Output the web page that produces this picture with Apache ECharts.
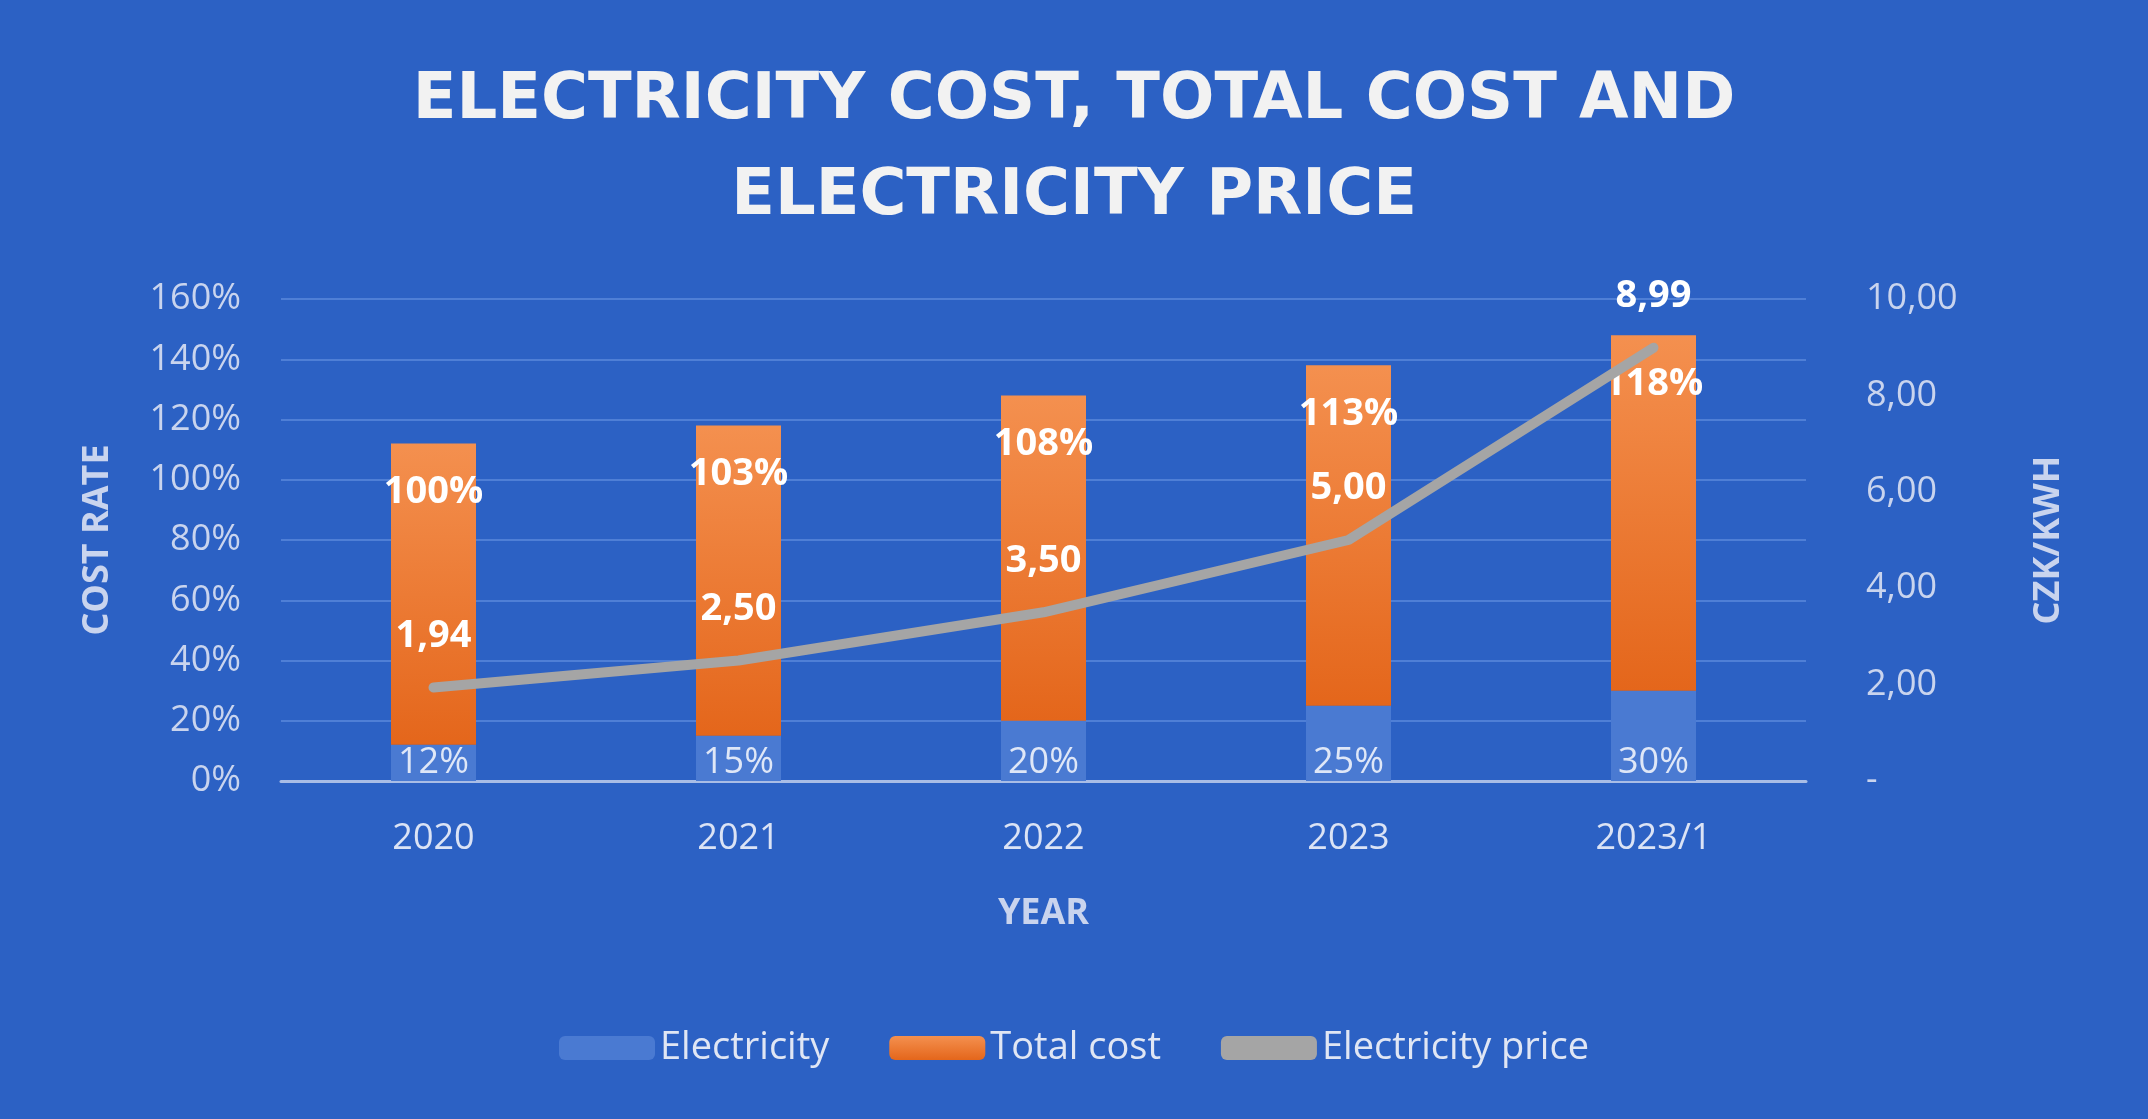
<!DOCTYPE html>
<html><head><meta charset="utf-8">
<script src="https://cdn.jsdelivr.net/npm/echarts@6/dist/echarts.min.js"></script>
<style>html,body{margin:0;background:#2c61c4}#main{width:2148px;height:1119px}</style>
</head><body><div id="main"></div>
<script>
let years = ['2020', '2021', '2022', '2023', '2023/1'];
let electricity = [12, 15, 20, 25, 30];
let totalCost = [100, 103, 108, 113, 118];
let price = [1.94, 2.50, 3.50, 5.00, 8.99];

let font = '"Open Sans", sans-serif';
let chart = echarts.init(document.getElementById('main'));
let fmt = v => v.toFixed(2).replace('.', ',');
chart.setOption({
    backgroundColor: '#2c61c4',
    textStyle: { fontFamily: font },
    title: {
        text: 'ELECTRICITY COST, TOTAL COST AND\nELECTRICITY PRICE',
        left: 'center', top: 48,
        textStyle: { color: '#f2f2f2', fontSize: 64, fontWeight: 'bold', lineHeight: 96, fontFamily: '"DejaVu Sans", sans-serif' }
    },
    legend: {
        bottom: 47, itemWidth: 96, itemHeight: 24, itemGap: 60,
        textStyle: { color: '#e0e6f4', fontSize: 38 },
        data: ['Electricity', 'Total cost', { name: 'Electricity price', icon: 'roundRect', itemStyle: { color: '#a5a5a5' } }]
    },
    grid: { left: 281, right: 342, top: 299, bottom: 338 },
    xAxis: {
        type: 'category', data: years,
        name: 'YEAR', nameLocation: 'middle', nameGap: 115,
        nameTextStyle: { color: '#c9d4ee', fontSize: 36, fontWeight: 'bold' },
        axisLine: { lineStyle: { color: '#a9bde6', width: 3 } },
        axisTick: { show: false },
        axisLabel: { color: '#dbe3f5', fontSize: 36, margin: 40 }
    },
    yAxis: [{
        type: 'value', min: 0, max: 160, interval: 20,
        name: 'COST RATE', nameLocation: 'middle', nameGap: 165, nameRotate: 90,
        nameTextStyle: { color: '#c9d4ee', fontSize: 36, fontWeight: 'bold' },
        axisLabel: { color: '#c9d4ee', fontSize: 36, formatter: '{value}%', margin: 40 },
        splitLine: { lineStyle: { color: '#4f7fd6', width: 2 } }
    }, {
        type: 'value', min: 0, max: 10, interval: 2,
        name: 'CZK/KWH', nameLocation: 'middle', nameGap: 225, nameRotate: 90,
        nameTextStyle: { color: '#c9d4ee', fontSize: 36, fontWeight: 'bold' },
        axisLabel: { color: '#c9d4ee', fontSize: 36, margin: 60, formatter: v => v === 0 ? '-' : fmt(v) },
        splitLine: { show: false }
    }],
    series: [{
        name: 'Electricity', type: 'bar', stack: 'a', barWidth: 85, data: electricity,
        itemStyle: { color: '#4a7ad2' },
        label: { show: true, position: 'insideBottom', formatter: '{c}%', color: '#dfe7f7', fontSize: 36, distance: 0 }
    }, {
        name: 'Total cost', type: 'bar', stack: 'a', data: totalCost,
        itemStyle: { color: new echarts.graphic.LinearGradient(0, 0, 0, 1, [{ offset: 0, color: '#f4904f' }, { offset: 1, color: '#e4661b' }]) },
        label: { show: true, position: 'insideTop', formatter: '{c}%', color: '#ffffff', fontSize: 38, fontWeight: 'bold', distance: 30 }
    }, {
        name: 'Electricity price', type: 'line', yAxisIndex: 1, data: price, z: 5,
        symbol: 'circle', symbolSize: 1, showSymbol: true,
        lineStyle: { color: '#a5a5a5', width: 10, cap: 'round' }, itemStyle: { color: '#a5a5a5' },
        label: { show: true, position: 'top', distance: 32, color: '#ffffff', fontSize: 38, fontWeight: 'bold', formatter: p => fmt(p.value) }
    }]
});
</script></body></html>
